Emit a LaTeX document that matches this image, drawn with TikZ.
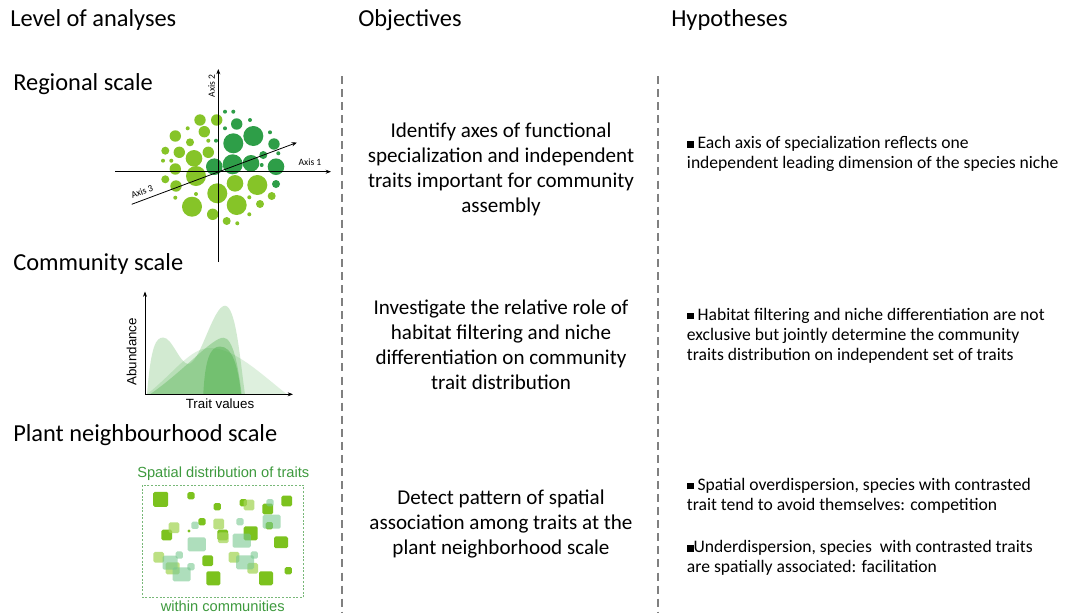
\documentclass[tikz,border=0pt]{standalone}
\usepackage{fontspec}
\setmainfont{Carlito}
\newfontfamily\arialf{Liberation Sans}
\usetikzlibrary{arrows.meta}
\definecolor{dgreen}{HTML}{2E9E48}
\definecolor{lgreen}{HTML}{86C428}
\definecolor{sqgreen}{HTML}{7CC21E}
\definecolor{sqlight}{HTML}{A6D65A}
\definecolor{sqteal}{HTML}{78C890}
\definecolor{pgreen}{HTML}{4DAF4A}
\definecolor{ttlgreen}{HTML}{3E9A3E}
\definecolor{sepgray}{HTML}{808080}
\begin{document}
\begin{tikzpicture}[x=0.75pt,y=-0.75pt,
  header/.style={anchor=base west,inner sep=0pt,font=\fontsize{18.3}{22}\selectfont},
  objtext/.style={anchor=base,inner sep=0pt,align=center,font=\fontsize{15.8}{18.7}\selectfont},
  hyptext/.style={anchor=base west,inner sep=0pt,align=left,font=\fontsize{13.2}{15}\selectfont},
  sepline/.style={draw=sepgray,line width=1.2pt,dash pattern=on 6pt off 3.8pt},
  axisline/.style={draw=black,line width=0.6pt,-{Stealth[length=4pt,width=3pt]}},
  axlabel/.style={inner sep=0pt,font=\fontsize{7.2}{8}\selectfont},
  plotlabel/.style={inner sep=0pt,font=\arialf\fontsize{10}{12}\selectfont},
  sptext/.style={inner sep=0pt,text=ttlgreen,font=\arialf\fontsize{11}{13}\selectfont}]
\useasboundingbox (0,0) rectangle (1072,615);
\fill[white] (0,0) rectangle (1072,615);

% column headers
\node[header] (hlevel) at (10,26.7) {Level of analyses};
\node[header] (hobj) at (358,26.7) {Objectives};
\node[header] (hhyp) at (671,26.7) {Hypotheses};

% scale titles
\node[header] (sreg) at (13,90) {Regional scale};
\node[header] (scom) at (13,270) {Community scale};
\node[header] (spla) at (13,441.7) {Plant neighbourhood scale};

% separators
\coordinate (s1t) at (342,76); \coordinate (s1b) at (342,612);
\coordinate (s2t) at (658,76); \coordinate (s2b) at (658,612);
\draw[sepline] (s1t) -- (s1b);
\draw[sepline] (s2t) -- (s2b);

% ---------- scatter (regional) ----------
\foreach \x/\y/\r in {
225/111.7/2, 233.3/111.7/2, 236.7/124/5.7, 250/120/2, 225/128.3/2,
253.3/136/10, 270/132.3/2, 233.3/143.3/10, 274/144/5.7, 216/140.7/2,
263.3/155/4, 278.3/153.3/2, 214.3/166.7/8.3, 232.7/164.3/10,
251/163.3/8.3, 276/166.7/8.3, 261.7/165/2, 276/184/4}
  \fill[dgreen] (\x,\y) circle[radius=\r];
\foreach \x/\y/\r in {
200/120/5.7, 216.7/120/5.7, 187.7/128.3/2, 204.3/131.7/5.7, 175.3/136/5.7,
190/142.3/4, 208.3/140.7/2, 165.3/150.7/4, 179.3/152.3/5.7, 194/158.3/8.3,
208.3/152.3/5.7, 163/160.7/2, 171.3/160.7/2, 175.3/169/5.7, 165.3/179.3/4,
196/176/10, 176/186/5.7, 217.3/193.3/10, 235/183.3/8.3, 257.3/185/10,
175.3/197.7/2, 196/194/2, 192/206.7/10, 236.7/205/10, 249.3/197.3/2,
260/204/4, 271.7/196/4, 212.7/214.3/5.7, 249.3/214.3/2, 226.7/221/4,
237.3/223.3/2}
  \fill[lgreen] (\x,\y) circle[radius=\r];

\coordinate (a2b) at (218.3,262); \coordinate (a2t) at (218.3,69);
\coordinate (a1l) at (115,171.7); \coordinate (a1r) at (331,171.7);
\coordinate (a3l) at (131.7,204.3); \coordinate (a3r) at (297,142.5);
\draw[axisline] (a2b) -- (a2t);
\draw[axisline] (a1l) -- (a1r);
\draw[axisline] (a3l) -- (a3r);
\node[axlabel,rotate=90] (ax2) at (211.5,86) {Axis 2};
\node[axlabel] (ax1) at (310,162.5) {Axis 1};
\node[axlabel,rotate=20.5] (ax3) at (142,191.5) {Axis 3};

% ---------- abundance plot (community) ----------
\fill[pgreen,opacity=0.18] (147,394.3) .. controls (175,372) and (190,348) .. (210,348)
  .. controls (235,348) and (262,375) .. (287,394.3) -- cycle;
\fill[pgreen,opacity=0.25] (147,394.3) .. controls (151,345) and (156,337.5) .. (163.3,337.5)
  .. controls (172,337.5) and (180,364) .. (188.3,364)
  .. controls (200,364) and (213,305.7) .. (225,305.7)
  .. controls (236,305.7) and (240,360) .. (245,394.3) -- cycle;
\fill[pgreen,opacity=0.35] (150,394.3) .. controls (185,370) and (212,337.7) .. (223.3,337.7)
  .. controls (233,337.7) and (238,365) .. (241.7,394.3) -- cycle;
\fill[pgreen,opacity=0.45] (203.3,394.3) .. controls (205,360) and (210,346.5) .. (220,346.5)
  .. controls (232,346.5) and (238,365) .. (241,394.3) -- cycle;
\coordinate (ab0) at (145,394.3); \coordinate (abt) at (145,291.5); \coordinate (abr) at (293,394.3);
\draw[axisline] (ab0) -- (abt);
\draw[axisline] (ab0) -- (abr);
\node[plotlabel,rotate=90] (abun) at (131.5,351.7) {Abundance};
\node[plotlabel] (trv) at (220,404) {Trait values};

% ---------- spatial distribution (plant neighbourhood) ----------
\node[sptext] (sptitle) at (223.3,473.3) {Spatial distribution of traits};
\node[sptext] (spsub) at (222.7,606.5) {within communities};
\draw[draw=ttlgreen!70,line width=0.5pt,dash pattern=on 1.5pt off 1.2pt] (142.7,485) rectangle (303.3,597.7);
\foreach \x/\y/\w/\h in {
160.7/499.3/15/15, 191/495.7/7.3/7.3, 217.3/506.7/7.3/7.3, 243.3/502.7/7.3/7.3,
267.7/509/10.7/10.7, 286.7/501/10.7/10.7, 202/521.7/7.3/7.3, 166.7/535/10.7/10.7,
189/531/3.3/3.3, 222.7/535/10.7/10.7, 250.7/533.3/14/14, 269.3/525.7/7.3/7.3,
281/542.3/14/11.7, 207.7/560.7/10.7/10.7, 213.3/578.3/14/14, 266/578.3/14/14,
288.3/570.7/7.3/7.3}
  \fill[sqgreen,rounded corners=1.2pt] ({\x-\w/2},{\y-\h/2}) rectangle ({\x+\w/2},{\y+\h/2});
\foreach \x/\y/\w/\h in {
174/527.7/10.7/10.7, 218.7/524/10.7/10.7, 249/505/10.7/10.7, 158.7/557.3/10.7/10.7,
172.7/568.3/14/12, 234/557.3/10.7/10.7, 252.7/568.3/10.7/10.7, 223.3/537.7/10.7/10.7}
  \fill[sqlight,opacity=0.75,rounded corners=1.2pt] ({\x-\w/2},{\y-\h/2}) rectangle ({\x+\w/2},{\y+\h/2});
\foreach \x/\y/\w/\h in {
270/502.7/7.3/7.3, 195/525.3/7.3/7.3, 240/521.7/7.3/7.3, 196.7/544.3/18.3/14,
241.7/540.7/18.3/14, 271.7/521.7/18/14, 179.3/555/7.3/7.3, 191/566.7/7.3/7.3,
181.7/574.3/18/14, 170/562.7/15/14, 245/562.3/18/14, 254.3/555/7.3/7.3}
  \fill[sqteal,opacity=0.6,rounded corners=1.2pt] ({\x-\w/2},{\y-\h/2}) rectangle ({\x+\w/2},{\y+\h/2});

% ---------- objectives (anchor = baseline of last line) ----------
\node[objtext] (obj1) at (501,212.7) {Identify axes of functional\\specialization and independent\\traits important for community\\assembly};
\node[objtext] (obj2) at (501,389.3) {Investigate the relative role of\\habitat filtering and niche\\differentiation on community\\trait distribution};
\node[objtext] (obj3) at (501,554) {Detect pattern of spatial\\association among traits at the\\plant neighborhood scale};

% ---------- hypotheses (anchor = baseline of last line) ----------
\node[hyptext] (hyp1) at (686.7,168.3) {\rule[0.5pt]{5pt}{5pt} Each axis of specialization reflects one\\independent leading dimension of the species niche};
\node[hyptext] (hyp2) at (686.7,360) {\rule[0.5pt]{5pt}{5pt} Habitat filtering and niche differentiation are not\\exclusive but jointly determine the community\\traits distribution on independent set of traits};
\node[hyptext] (hyp3) at (686.7,510) {\rule[0.5pt]{5pt}{5pt} Spatial overdispersion, species with contrasted\\trait tend to avoid themselves: competition};
\node[hyptext] (hyp4) at (686.7,572.3) {\rule[0.5pt]{5pt}{5pt}Underdispersion, species\ \ with contrasted traits\\are spatially associated: facilitation};
\end{tikzpicture}
\end{document}
